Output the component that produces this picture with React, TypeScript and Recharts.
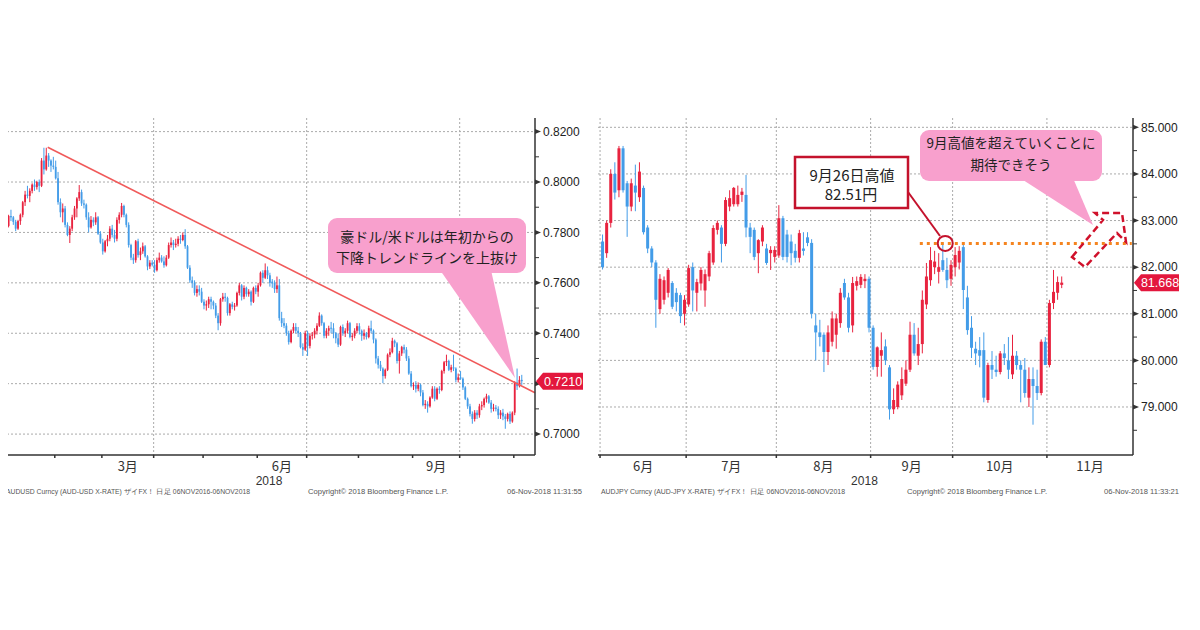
import React from 'react';
import { ComposedChart, Bar, XAxis, YAxis, CartesianGrid, ReferenceLine, ReferenceDot } from 'recharts';

// AUD/USD daily candles 2018, [open, high, low, close] in pips (x 0.0001)
const usdJan = [
  [7800, 7835, 7795, 7830], [7830, 7845, 7810, 7826], [7826, 7870, 7820, 7865], [7865, 7890, 7845, 7860],
  [7860, 7865, 7830, 7842], [7842, 7850, 7805, 7815], [7815, 7850, 7810, 7845], [7845, 7875, 7830, 7870],
  [7870, 7925, 7860, 7920], [7920, 7965, 7905, 7950], [7950, 7985, 7935, 7945], [7945, 7975, 7920, 7965],
  [7965, 7995, 7955, 7990], [7990, 8010, 7965, 7980], [7980, 8005, 7970, 8000], [8000, 8010, 7960, 7985],
  [7985, 8095, 7980, 8085], [8085, 8136, 8030, 8050], [8050, 8136, 8045, 8105], [8105, 8115, 8060, 8085],
  [8085, 8090, 8040, 8065], [8065, 8100, 8050, 8060],
];
const usdFeb = [
  [8060, 8085, 8010, 8015], [8015, 8040, 7910, 7920], [7920, 7935, 7860, 7880], [7880, 7915, 7840, 7895],
  [7895, 7905, 7820, 7830], [7830, 7840, 7785, 7790], [7790, 7825, 7758, 7815], [7815, 7870, 7805, 7860],
  [7860, 7905, 7850, 7895], [7895, 7940, 7860, 7935], [7935, 7988, 7925, 7960], [7960, 7970, 7905, 7915],
  [7915, 7930, 7895, 7910], [7910, 7915, 7850, 7860], [7860, 7880, 7800, 7820], [7820, 7865, 7815, 7850],
  [7850, 7860, 7825, 7840], [7840, 7880, 7830, 7860], [7860, 7865, 7790, 7795], [7795, 7805, 7755, 7760],
];
const usdMar = [
  [7760, 7775, 7712, 7725], [7725, 7770, 7720, 7765], [7765, 7790, 7745, 7775], [7775, 7825, 7765, 7815],
  [7815, 7830, 7780, 7790], [7790, 7810, 7760, 7775], [7775, 7860, 7765, 7850], [7850, 7880, 7835, 7870],
  [7870, 7917, 7860, 7905], [7905, 7910, 7860, 7870], [7870, 7875, 7820, 7830], [7830, 7840, 7740, 7750],
  [7750, 7755, 7690, 7700], [7700, 7715, 7675, 7690], [7690, 7770, 7680, 7765], [7765, 7775, 7700, 7710],
  [7710, 7740, 7690, 7725], [7725, 7760, 7715, 7745], [7745, 7750, 7700, 7705], [7705, 7710, 7650, 7665],
  [7665, 7690, 7655, 7680], [7680, 7690, 7665, 7672],
];
const usdApr = [
  [7672, 7690, 7640, 7650], [7650, 7700, 7645, 7690], [7690, 7720, 7680, 7700], [7700, 7710, 7680, 7685],
  [7685, 7705, 7660, 7670], [7670, 7710, 7665, 7700], [7700, 7760, 7695, 7750], [7750, 7780, 7740, 7760],
  [7760, 7770, 7730, 7750], [7750, 7775, 7740, 7755], [7755, 7785, 7745, 7775], [7775, 7790, 7755, 7770],
  [7770, 7800, 7765, 7790], [7790, 7813, 7735, 7745], [7745, 7750, 7655, 7660], [7660, 7670, 7600, 7610],
  [7610, 7625, 7580, 7600], [7600, 7610, 7550, 7560], [7560, 7590, 7545, 7575], [7575, 7590, 7550, 7565],
  [7565, 7580, 7520, 7525],
];
const usdMay = [
  [7525, 7535, 7495, 7510], [7510, 7530, 7490, 7515], [7515, 7545, 7500, 7535], [7535, 7545, 7495, 7525],
  [7525, 7530, 7495, 7510], [7510, 7520, 7460, 7470], [7470, 7480, 7412, 7440], [7440, 7540, 7430, 7535],
  [7535, 7560, 7525, 7545], [7545, 7560, 7525, 7540], [7540, 7545, 7470, 7480], [7480, 7520, 7470, 7515],
  [7515, 7525, 7495, 7505], [7505, 7520, 7490, 7510], [7510, 7565, 7505, 7560], [7560, 7600, 7550, 7590],
  [7590, 7595, 7530, 7545], [7545, 7590, 7535, 7580], [7580, 7585, 7545, 7555], [7555, 7575, 7545, 7565],
  [7565, 7570, 7510, 7525], [7525, 7585, 7520, 7580], [7580, 7590, 7555, 7565],
];
const usdJun = [
  [7565, 7600, 7545, 7590], [7590, 7645, 7585, 7640], [7640, 7650, 7600, 7620], [7620, 7677, 7615, 7650],
  [7650, 7665, 7615, 7630], [7630, 7640, 7585, 7600], [7605, 7615, 7580, 7598], [7600, 7610, 7560, 7575],
  [7575, 7625, 7560, 7590], [7590, 7615, 7450, 7460], [7460, 7485, 7425, 7440], [7440, 7460, 7420, 7430],
  [7430, 7440, 7390, 7400], [7400, 7410, 7355, 7365], [7365, 7415, 7360, 7410], [7410, 7440, 7400, 7425],
  [7425, 7440, 7400, 7410], [7410, 7425, 7385, 7400], [7400, 7405, 7340, 7345], [7345, 7360, 7310, 7335],
  [7335, 7410, 7330, 7400],
];
const usdJul = [
  [7400, 7410, 7310, 7350], [7350, 7400, 7340, 7390], [7390, 7405, 7375, 7395], [7395, 7420, 7380, 7410],
  [7410, 7440, 7395, 7430], [7430, 7483, 7425, 7470], [7470, 7475, 7430, 7440], [7440, 7445, 7380, 7390],
  [7390, 7420, 7380, 7410], [7410, 7430, 7390, 7420], [7422, 7445, 7400, 7418], [7420, 7440, 7380, 7400],
  [7400, 7405, 7360, 7380], [7380, 7400, 7345, 7355], [7355, 7430, 7350, 7425], [7425, 7435, 7390, 7400],
  [7400, 7420, 7385, 7410], [7410, 7450, 7400, 7440], [7440, 7445, 7380, 7385], [7385, 7400, 7370, 7390],
  [7390, 7420, 7380, 7410], [7410, 7440, 7400, 7428],
];
const usdAug = [
  [7428, 7440, 7395, 7410], [7410, 7415, 7370, 7390], [7390, 7415, 7375, 7400], [7400, 7405, 7375, 7385],
  [7385, 7430, 7380, 7420], [7420, 7450, 7400, 7410], [7410, 7415, 7360, 7375], [7375, 7380, 7280, 7300],
  [7300, 7310, 7260, 7275], [7275, 7290, 7250, 7260], [7260, 7265, 7202, 7230], [7230, 7260, 7220, 7255],
  [7255, 7320, 7250, 7315], [7315, 7340, 7305, 7325], [7325, 7382, 7320, 7370], [7370, 7375, 7345, 7360],
  [7360, 7365, 7280, 7290], [7290, 7330, 7240, 7320], [7320, 7350, 7310, 7345], [7345, 7355, 7320, 7335],
  [7335, 7345, 7290, 7300], [7300, 7310, 7235, 7240], [7240, 7250, 7185, 7190],
];
const usdSep = [
  [7190, 7205, 7175, 7195], [7195, 7210, 7165, 7180], [7180, 7205, 7170, 7195], [7195, 7200, 7150, 7165],
  [7165, 7175, 7110, 7115], [7115, 7135, 7100, 7120], [7120, 7130, 7085, 7110], [7110, 7150, 7105, 7145],
  [7145, 7190, 7140, 7180], [7180, 7190, 7130, 7140], [7140, 7185, 7135, 7180], [7180, 7190, 7160, 7175],
  [7175, 7255, 7170, 7250], [7250, 7290, 7240, 7285], [7285, 7315, 7270, 7290], [7290, 7295, 7250, 7255],
  [7255, 7275, 7245, 7265], [7265, 7315, 7250, 7260], [7260, 7265, 7205, 7215], [7215, 7240, 7205, 7225],
];
const usdOct = [
  [7225, 7250, 7215, 7220], [7220, 7225, 7175, 7185], [7185, 7190, 7135, 7140], [7140, 7145, 7100, 7110],
  [7110, 7120, 7070, 7080], [7080, 7090, 7041, 7060], [7060, 7095, 7050, 7085], [7085, 7095, 7060, 7075],
  [7075, 7120, 7065, 7110], [7110, 7130, 7095, 7115], [7115, 7145, 7105, 7140], [7140, 7160, 7125, 7150],
  [7150, 7155, 7120, 7125], [7125, 7135, 7085, 7100], [7100, 7120, 7090, 7105], [7105, 7115, 7090, 7100],
  [7100, 7110, 7060, 7075], [7075, 7095, 7060, 7085], [7085, 7100, 7055, 7070], [7070, 7080, 7021, 7060],
  [7060, 7085, 7050, 7080], [7080, 7090, 7040, 7050], [7050, 7090, 7045, 7085],
];
const usdNov = [
  [7085, 7210, 7075, 7205], [7205, 7260, 7175, 7190], [7190, 7230, 7185, 7215], [7215, 7235, 7195, 7210],
];

// AUD/JPY daily candles Jun-Nov 2018, [open, high, low, close]
const jpyJun = [
  [82.55, 82.7, 81.95, 82.0], [82.3, 83.0, 82.2, 82.95], [82.95, 84.1, 82.85, 84.0], [84.0, 84.25, 83.45, 83.6],
  [83.65, 84.6, 83.5, 84.55], [84.55, 84.6, 83.6, 83.65], [83.8, 83.85, 82.65, 83.3], [83.3, 83.9, 83.2, 83.8],
  [83.75, 84.2, 83.2, 83.6], [83.5, 84.25, 83.4, 84.05], [83.7, 83.75, 82.7, 82.75], [82.85, 82.9, 82.3, 82.4],
  [82.4, 82.45, 82.0, 82.1], [82.1, 82.15, 80.7, 81.3], [81.1, 81.85, 81.0, 81.75], [81.3, 81.8, 81.2, 81.72],
  [81.45, 81.98, 81.35, 81.94], [81.66, 81.7, 81.1, 81.15], [81.45, 81.55, 81.05, 81.25], [81.4, 81.45, 80.8, 80.95],
  [81.0, 81.4, 80.75, 81.3],
];
const jpyJul = [
  [81.2, 82.05, 81.15, 81.98], [82.0, 82.1, 81.05, 81.5], [81.45, 81.75, 81.05, 81.68], [81.65, 82.0, 81.5, 81.94],
  [81.5, 81.95, 81.15, 81.85], [81.8, 82.35, 81.7, 82.3], [82.1, 82.9, 82.05, 82.84], [82.8, 83.0, 82.7, 82.95],
  [82.85, 82.9, 82.1, 82.5], [82.5, 83.5, 82.45, 83.44], [83.3, 83.65, 83.2, 83.48], [83.35, 83.72, 83.3, 83.7],
  [83.35, 83.75, 83.3, 83.55], [83.55, 83.7, 83.4, 83.62], [83.55, 83.98, 82.64, 82.85], [82.85, 82.95, 82.3, 82.65],
  [82.8, 82.85, 82.15, 82.22], [82.3, 82.6, 81.87, 82.58], [82.55, 82.9, 82.45, 82.85], [82.4, 82.5, 82.05, 82.09],
  [82.3, 82.45, 81.94, 82.37], [82.22, 82.45, 82.1, 82.37],
];
const jpyAug = [
  [82.25, 83.33, 82.2, 83.05], [83.05, 83.1, 82.15, 82.22], [82.7, 82.8, 82.1, 82.22], [82.55, 82.7, 82.04, 82.3],
  [82.35, 82.5, 82.1, 82.2], [82.2, 82.8, 82.1, 82.73], [82.4, 82.75, 82.25, 82.35], [82.64, 82.75, 82.45, 82.52],
  [82.52, 82.6, 80.9, 81.0], [80.75, 81.0, 80.0, 80.6], [80.6, 80.87, 80.3, 80.5], [80.55, 80.6, 79.75, 80.18],
  [80.18, 80.75, 79.9, 80.6], [80.4, 81.05, 80.3, 80.9], [80.55, 81.0, 80.25, 80.9], [80.8, 81.55, 80.7, 81.45],
  [81.66, 81.75, 81.3, 81.35], [81.35, 81.45, 80.6, 80.7], [80.75, 81.79, 80.6, 81.66], [81.6, 81.8, 81.5, 81.7],
  [81.62, 81.85, 81.55, 81.79], [81.7, 81.85, 81.55, 81.75], [81.75, 81.8, 80.6, 80.7],
];
const jpySep = [
  [80.7, 80.75, 79.8, 79.86], [79.86, 80.3, 79.65, 80.28], [80.1, 80.6, 79.65, 80.22], [80.3, 80.45, 79.9, 80.0],
  [79.85, 79.9, 78.73, 78.95], [78.95, 79.4, 78.85, 79.15], [79.0, 79.55, 78.95, 79.48], [79.25, 79.85, 79.15, 79.6],
  [79.5, 80.0, 79.45, 79.8], [79.8, 80.83, 79.75, 80.55], [80.55, 80.8, 80.1, 80.15], [80.1, 80.7, 79.9, 80.35],
  [80.35, 81.5, 80.15, 81.3], [81.2, 82.09, 81.1, 81.8], [81.72, 82.43, 81.6, 82.15], [82.0, 82.35, 81.85, 82.12],
  [81.9, 82.3, 81.65, 82.0], [82.15, 82.51, 81.9, 81.94], [81.94, 82.2, 81.55, 81.72], [81.75, 82.15, 81.6, 82.05],
];
const jpyOct = [
  [82.0, 82.43, 81.8, 82.26], [82.1, 82.45, 81.95, 82.35], [82.43, 82.48, 81.1, 81.51], [81.35, 81.6, 80.55, 80.65],
  [80.7, 80.95, 80.05, 80.27], [80.25, 80.4, 79.9, 80.15], [80.22, 80.5, 79.85, 80.1], [80.22, 80.6, 79.1, 79.2],
  [79.15, 79.95, 79.09, 79.9], [79.9, 80.2, 79.6, 79.8], [79.8, 80.1, 79.65, 79.75], [79.75, 80.2, 79.7, 80.15],
  [80.15, 80.35, 79.9, 80.05], [80.0, 80.5, 79.6, 79.8], [79.7, 80.55, 79.6, 80.1], [80.1, 80.2, 79.8, 79.9],
  [79.9, 80.0, 79.1, 79.8], [79.8, 80.05, 79.2, 79.3], [79.2, 79.85, 79.0, 79.6], [79.6, 79.85, 78.62, 79.45],
  [79.45, 79.8, 79.15, 79.3], [79.3, 80.45, 79.25, 80.4], [80.4, 80.5, 79.9, 79.9],
];
const jpyNov = [
  [79.9, 81.3, 79.85, 81.23], [81.23, 81.94, 81.1, 81.47], [81.45, 81.8, 81.3, 81.68], [81.62, 81.8, 81.55, 81.668],
];

// axes
const usdMonthStarts = [-0.5, 21.5, 41.5, 63.5, 84.5, 107.5, 128.5, 150.5, 173.5, 193.5, 216.5];
const usdMonthLabels = [{ at: 52.5, text: '3月' }, { at: 118, text: '6月' }, { at: 183.5, text: '9月' }];
const usdGridX = [-0.5, 63.5, 128.5, 193.5];
const usdYMajor = [0.7, 0.72, 0.74, 0.76, 0.78, 0.8, 0.82];
const usdYMinor = [0.71, 0.73, 0.75, 0.77, 0.79, 0.81];
const usdLast = 0.721;

const jpyMonthStarts = [-0.5, 20.5, 42.5, 65.5, 85.5, 108.5];
const jpyMonthLabels = [
  { at: 10, text: '6月' }, { at: 31.5, text: '7月' }, { at: 54, text: '8月' },
  { at: 75.5, text: '9月' }, { at: 97, text: '10月' }, { at: 119, text: '11月' },
];
const jpyYMajor = [79, 80, 81, 82, 83, 84, 85];
const jpyYMinor = [78.5, 79.5, 80.5, 81.5, 82.5, 83.5, 84.5];
const jpyLast = 81.668;
const sepHigh = 82.51;

const RED = '#e8233f';
const BLUE = '#439ce8';
const TAG = '#e3173d';
const PINK = '#f8a0cd';
const DARKRED = '#c4122c';
const AXIS = '#333';
const FONT = "'Liberation Sans', Arial, sans-serif";
const JP = "'Noto Sans CJK JP', sans-serif";

const toRows = (months: number[][][], div: number) =>
  months.flat().map((c, i) => ({ i, o: c[0] / div, h: c[1] / div, l: c[2] / div, c: c[3] / div }));

const usdRows = toRows([usdJan, usdFeb, usdMar, usdApr, usdMay, usdJun, usdJul, usdAug, usdSep, usdOct, usdNov], 10000);
const jpyRows = toRows([jpyJun, jpyJul, jpyAug, jpySep, jpyOct, jpyNov], 1);

const candle = (props: any) => {
  const { x, y, width, height, payload } = props;
  if (!payload) return <g />;
  const { o, h, l, c } = payload;
  const top = Math.min(y, y + height);
  const hgt = Math.abs(height);
  const k = h > l ? hgt / (h - l) : 0;
  const bodyTop = top + (h - Math.max(o, c)) * k;
  const bodyH = Math.max(1, Math.abs(c - o) * k);
  const col = c > o ? RED : BLUE;
  const cx = x + width / 2;
  return (
    <g>
      <line x1={cx} x2={cx} y1={top} y2={top + hgt} stroke={col} strokeWidth={1} />
      <rect x={x} y={bodyTop} width={width} height={bodyH} fill={col} />
    </g>
  );
};

const xTick = (labels: any[], yearAt: number) => (p: any) => {
  const v = p.payload.value;
  const lab = labels.find((m) => m.at === v);
  if (lab) {
    return <text x={p.x} y={p.y + 16} textAnchor="middle" fontSize={13} fontFamily={JP} fill="#333">{lab.text}</text>;
  }
  if (v === yearAt) {
    return <text x={p.x} y={p.y + 30} textAnchor="middle" fontSize={12} fontFamily={FONT} fill="#333">2018</text>;
  }
  return <line x1={p.x} x2={p.x} y1={p.y} y2={p.y + 3} stroke={AXIS} strokeWidth={1.5} />;
};

const yTick = (majors: number[], last: number, digits: number, tagW: number) => (p: any) => {
  const v = p.payload.value;
  const { x, y } = p;
  if (v === last) {
    return (
      <g>
        <path d={`M${x + 1},${y} L${x + 8},${y - 8.5} H${x + tagW} V${y + 8.5} H${x + 8} Z`} fill={TAG} />
        <text x={x + 8 + (tagW - 8) / 2} y={y + 4.5} textAnchor="middle" fontSize={12.5} fontFamily={FONT} fill="#fff">{v.toFixed(digits)}</text>
      </g>
    );
  }
  if (majors.includes(v)) {
    return (
      <g>
        <polygon points={`${x},${y - 2.5} ${x + 6},${y} ${x},${y + 2.5}`} fill={AXIS} />
        <text x={x + 8} y={y + 4.3} fontSize={12} fontFamily={FONT} fill="#222">{v.toFixed(digits)}</text>
      </g>
    );
  }
  return <line x1={x} x2={x + 4} y1={y} y2={y} stroke={AXIS} strokeWidth={1} />;
};

function CandleChart(p: any) {
  const xTicks = [...p.monthStarts, ...p.monthLabels.map((m: any) => m.at), p.yearAt];
  return (
    <ComposedChart width={p.width} height={400} data={p.rows} margin={{ top: 8, right: 0, left: 3, bottom: 0 }}>
      <CartesianGrid verticalValues={p.gridX} horizontalValues={p.yMajor} stroke="#aaa" strokeDasharray="2 2" />
      <XAxis
        dataKey="i" type="number" domain={p.xDomain} allowDataOverflow ticks={xTicks} interval={0}
        tickSize={0} tickMargin={0} height={55} tickLine={false}
        axisLine={{ stroke: AXIS, strokeWidth: 1.5 }} tick={xTick(p.monthLabels, p.yearAt)}
      />
      <YAxis
        orientation="right" type="number" domain={p.yDomain} allowDataOverflow
        ticks={[...p.yMajor, ...p.yMinor, p.last]} interval={0} tickSize={0} tickMargin={0}
        width={p.yAxisWidth} tickLine={false} axisLine={{ stroke: AXIS, strokeWidth: 1.5 }}
        tick={yTick(p.yMajor, p.last, p.digits, p.tagW)}
      />
      <Bar dataKey={(d: any) => [d.l, d.h]} barSize={p.barSize} shape={candle} isAnimationActive={false} />
      {p.children}
    </ComposedChart>
  );
}

function Footer({ x0, name, copyX, stampX, stamp }: any) {
  return (
    <g fontFamily={FONT} fontSize={6.5} fill="#555">
      <text x={x0} y={494} textLength={244} lengthAdjust="spacingAndGlyphs">{name}</text>
      <text x={copyX} y={494} textLength={140} lengthAdjust="spacingAndGlyphs">Copyright© 2018 Bloomberg Finance L.P.</text>
      <text x={stampX} y={494} textLength={75} lengthAdjust="spacingAndGlyphs">{stamp}</text>
    </g>
  );
}

export default function App() {
  return (
    <div style={{ position: 'relative', width: 1200, height: 630, margin: -8, background: '#fff', overflow: 'hidden' }}>
      <div style={{ position: 'absolute', left: 0, top: 110 }}>
        <CandleChart
          width={590} rows={usdRows} xDomain={[-0.5, 225.5]} yDomain={[0.6917, 0.8254]}
          monthStarts={usdMonthStarts} monthLabels={usdMonthLabels} yearAt={112.5} gridX={usdGridX}
          yMajor={usdYMajor} yMinor={usdYMinor} last={usdLast} digits={4} tagW={48}
          barSize={1.8} yAxisWidth={55}
        >
          <ReferenceLine
            segment={[{ x: 18.5, y: 0.8138 }, { x: 225.5, y: 0.7164 }]}
            stroke="#f05a5a" strokeWidth={1.6}
          />
        </CandleChart>
      </div>
      <div style={{ position: 'absolute', left: 595, top: 110 }}>
        <CandleChart
          width={605} rows={jpyRows} xDomain={[-1, 129.5]} yDomain={[77.97, 85.2]}
          monthStarts={jpyMonthStarts} monthLabels={jpyMonthLabels} yearAt={64} gridX={jpyMonthStarts}
          yMajor={jpyYMajor} yMinor={jpyYMinor} last={jpyLast} digits={3} tagW={46}
          barSize={3} yAxisWidth={67}
        >
          <ReferenceLine
            segment={[{ x: 77.5, y: sepHigh }, { x: 129.2, y: sepHigh }]}
            stroke="#f5841f" strokeWidth={3} strokeDasharray="3 4"
          />
          <ReferenceDot x={83.7} y={sepHigh} r={7.5} fill="none" stroke={DARKRED} strokeWidth={2} />
        </CandleChart>
      </div>

      <svg width={1200} height={630} style={{ position: 'absolute', left: 0, top: 0, pointerEvents: 'none' }}>
        {/* left callout */}
        <polygon points="440,270 491,270 515,378" fill={PINK} />
        <rect x={328} y={218} width={198} height={55} rx={9} fill={PINK} />
        <g fontFamily={JP} fontSize={14} fill="#222" textAnchor="middle">
          <text x={427} y={242}>豪ドル/米ドルは年初からの</text>
          <text x={427} y={263}>下降トレンドラインを上抜け</text>
        </g>

        {/* right callouts */}
        <polygon points="1020,178 1073,178 1093,225" fill={PINK} />
        <rect x={920} y={130} width={182} height={51} rx={9} fill={PINK} />
        <g fontFamily={JP} fontSize={13.5} fill="#222" textAnchor="middle">
          <text x={1011} y={148}>9月高値を超えていくことに</text>
          <text x={1011} y={170}>期待できそう</text>
        </g>

        <line x1={908} y1={192} x2={940} y2={236} stroke={DARKRED} strokeWidth={2} />
        <rect x={795} y={157} width={113} height={51} fill="#fff" stroke={DARKRED} strokeWidth={2.5} />
        <g fontFamily={JP} fontSize={15} fill="#222" textAnchor="middle">
          <text x={852} y={181}>9月26日高値</text>
          <text x={851} y={200}>82.51円</text>
        </g>

        <path
          d="M1072,257 L1103,220 L1095,213 L1122,213 L1126,242 L1117,233 L1085,267 Z"
          fill="none" stroke="#d0112b" strokeWidth={2.5} strokeDasharray="7 4"
        />

        <Footer x0={6} name="AUDUSD Curncy (AUD-USD X-RATE) ザイFX！ 日足 06NOV2016-06NOV2018" copyX={308} stampX={507} stamp="06-Nov-2018 11:31:55" />
        <Footer x0={601} name="AUDJPY Curncy (AUD-JPY X-RATE) ザイFX！ 日足 06NOV2016-06NOV2018" copyX={907} stampX={1104} stamp="06-Nov-2018 11:33:21" />
      </svg>
    </div>
  );
}
